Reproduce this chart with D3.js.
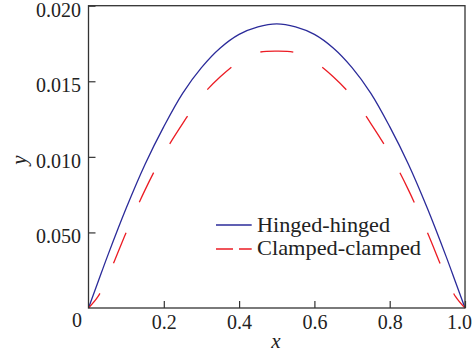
<!DOCTYPE html>
<html>
<head>
<meta charset="utf-8">
<script src="https://cdn.jsdelivr.net/npm/d3@7"></script>
<style>
  body { margin: 0; background: #fff; }
  text { font-family: "Liberation Serif", "Times New Roman", serif; fill: #222; }
</style>
</head>
<body>
<script>
const w = 472;
const h = 358;

// x positions along the beam
const xs = [0, 0.025, 0.05, 0.1, 0.15, 0.2, 0.25, 0.3, 0.35, 0.4, 0.45, 0.5,
            0.55, 0.6, 0.65, 0.7, 0.75, 0.8, 0.85, 0.9, 0.95, 0.975, 1.0];
const hinged = [0, 0.0017, 0.0034, 0.0066, 0.0095, 0.0120, 0.0142, 0.0159, 0.0172, 0.0181, 0.0186, 0.0188,
                0.0186, 0.0181, 0.0172, 0.0159, 0.0142, 0.0120, 0.0095, 0.0066, 0.0034, 0.0017, 0];
const clamped = [0, 0.00075, 0.0020, 0.0050, 0.0078, 0.0102, 0.0122, 0.0140, 0.0153, 0.0163, 0.0169, 0.0170,
                 0.0169, 0.0163, 0.0153, 0.0140, 0.0122, 0.0102, 0.0078, 0.0050, 0.0020, 0.00075, 0];

const xTicks = [0.2, 0.4, 0.6, 0.8, 1.0];
const xTickLabels = ["0.2", "0.4", "0.6", "0.8", "1.0"];
const yTicks = [0.005, 0.010, 0.015, 0.020];
const yTickLabels = ["0.050", "0.010", "0.015", "0.020"];

const pLeft = 88.5, pRight = 465, pTop = 5.7, pBottom = 308;

const x = d3.scaleLinear().domain([0, 1]).range([pLeft, pRight]);
const y = d3.scaleLinear().domain([0, 0.02]).range([pBottom, pTop]);

const svg = d3.select("body").append("svg")
  .attr("width", w)
  .attr("height", h);

// curves
const line = d3.line()
  .x((d, i) => x(xs[i]))
  .y(d => y(d))
  .curve(d3.curveCatmullRom.alpha(0.5));

svg.append("path")
  .datum(hinged)
  .attr("d", line)
  .attr("fill", "none")
  .attr("stroke", "#2b2b9a")
  .attr("stroke-width", 1.3);

const cp = svg.append("path")
  .datum(clamped)
  .attr("d", line)
  .attr("fill", "none")
  .attr("stroke", "#ec1c24")
  .attr("stroke-width", 1.3);

// dash centred on the peak
const L = cp.node().getTotalLength();
const period = 66;
let off = ((16.5 - L / 2) % period + period) % period;
cp.attr("stroke-dasharray", "33,33").attr("stroke-dashoffset", off);

// axes
const xAxis = d3.axisBottom(x)
  .tickValues(xTicks)
  .tickFormat((d, i) => xTickLabels[i])
  .tickSizeInner(-7)
  .tickSizeOuter(0)
  .tickPadding(7);

const yAxis = d3.axisLeft(y)
  .tickValues(yTicks)
  .tickFormat((d, i) => yTickLabels[i])
  .tickSizeInner(-7)
  .tickSizeOuter(0)
  .tickPadding(7.5);

const gx = svg.append("g")
  .attr("transform", "translate(0," + pBottom + ")")
  .call(xAxis);
const gy = svg.append("g")
  .attr("transform", "translate(" + pLeft + ",0)")
  .call(yAxis);

[gx, gy].forEach(g => {
  g.select(".domain").remove();
  g.selectAll("line").attr("stroke", "#333").attr("stroke-width", 1.2);
  g.selectAll("text")
    .style("font-family", "'Liberation Serif', serif")
    .attr("font-size", 20)
    .attr("fill", "#222");
});
gy.selectAll("text").attr("dy", "0.52em");

// last x label pulled inside the window
gx.selectAll(".tick").filter(d => d === 1.0).select("text")
  .attr("text-anchor", "end")
  .attr("x", 6.5);

// frame
svg.append("rect")
  .attr("x", pLeft)
  .attr("y", pTop)
  .attr("width", pRight - pLeft)
  .attr("height", pBottom - pTop)
  .attr("fill", "none")
  .attr("stroke", "#333")
  .attr("stroke-width", 1.3);

// origin label
svg.append("text")
  .attr("x", 77)
  .attr("y", 327)
  .attr("text-anchor", "middle")
  .attr("font-size", 20)
  .text("0");

// axis titles
svg.append("text")
  .attr("x", 276)
  .attr("y", 348)
  .attr("text-anchor", "middle")
  .attr("font-size", 21)
  .attr("font-style", "italic")
  .text("x");

svg.append("text")
  .attr("transform", "translate(26,160) rotate(-90)")
  .attr("text-anchor", "middle")
  .attr("font-size", 21)
  .attr("font-style", "italic")
  .text("y");

// legend
const legend = svg.append("g");
legend.append("line")
  .attr("x1", 216).attr("x2", 251.7)
  .attr("y1", 225).attr("y2", 225)
  .attr("stroke", "#2b2b9a").attr("stroke-width", 1.3);
legend.append("line")
  .attr("x1", 216).attr("x2", 251.7)
  .attr("y1", 249).attr("y2", 249)
  .attr("stroke", "#ec1c24").attr("stroke-width", 1.3)
  .attr("stroke-dasharray", "17,6");
legend.append("text")
  .attr("x", 257).attr("y", 231.5)
  .attr("font-size", 21.5)
  .attr("textLength", 133)
  .attr("lengthAdjust", "spacingAndGlyphs")
  .text("Hinged-hinged");
legend.append("text")
  .attr("x", 257).attr("y", 255)
  .attr("font-size", 21.5)
  .attr("textLength", 164)
  .attr("lengthAdjust", "spacingAndGlyphs")
  .text("Clamped-clamped");
</script>
</body>
</html>
